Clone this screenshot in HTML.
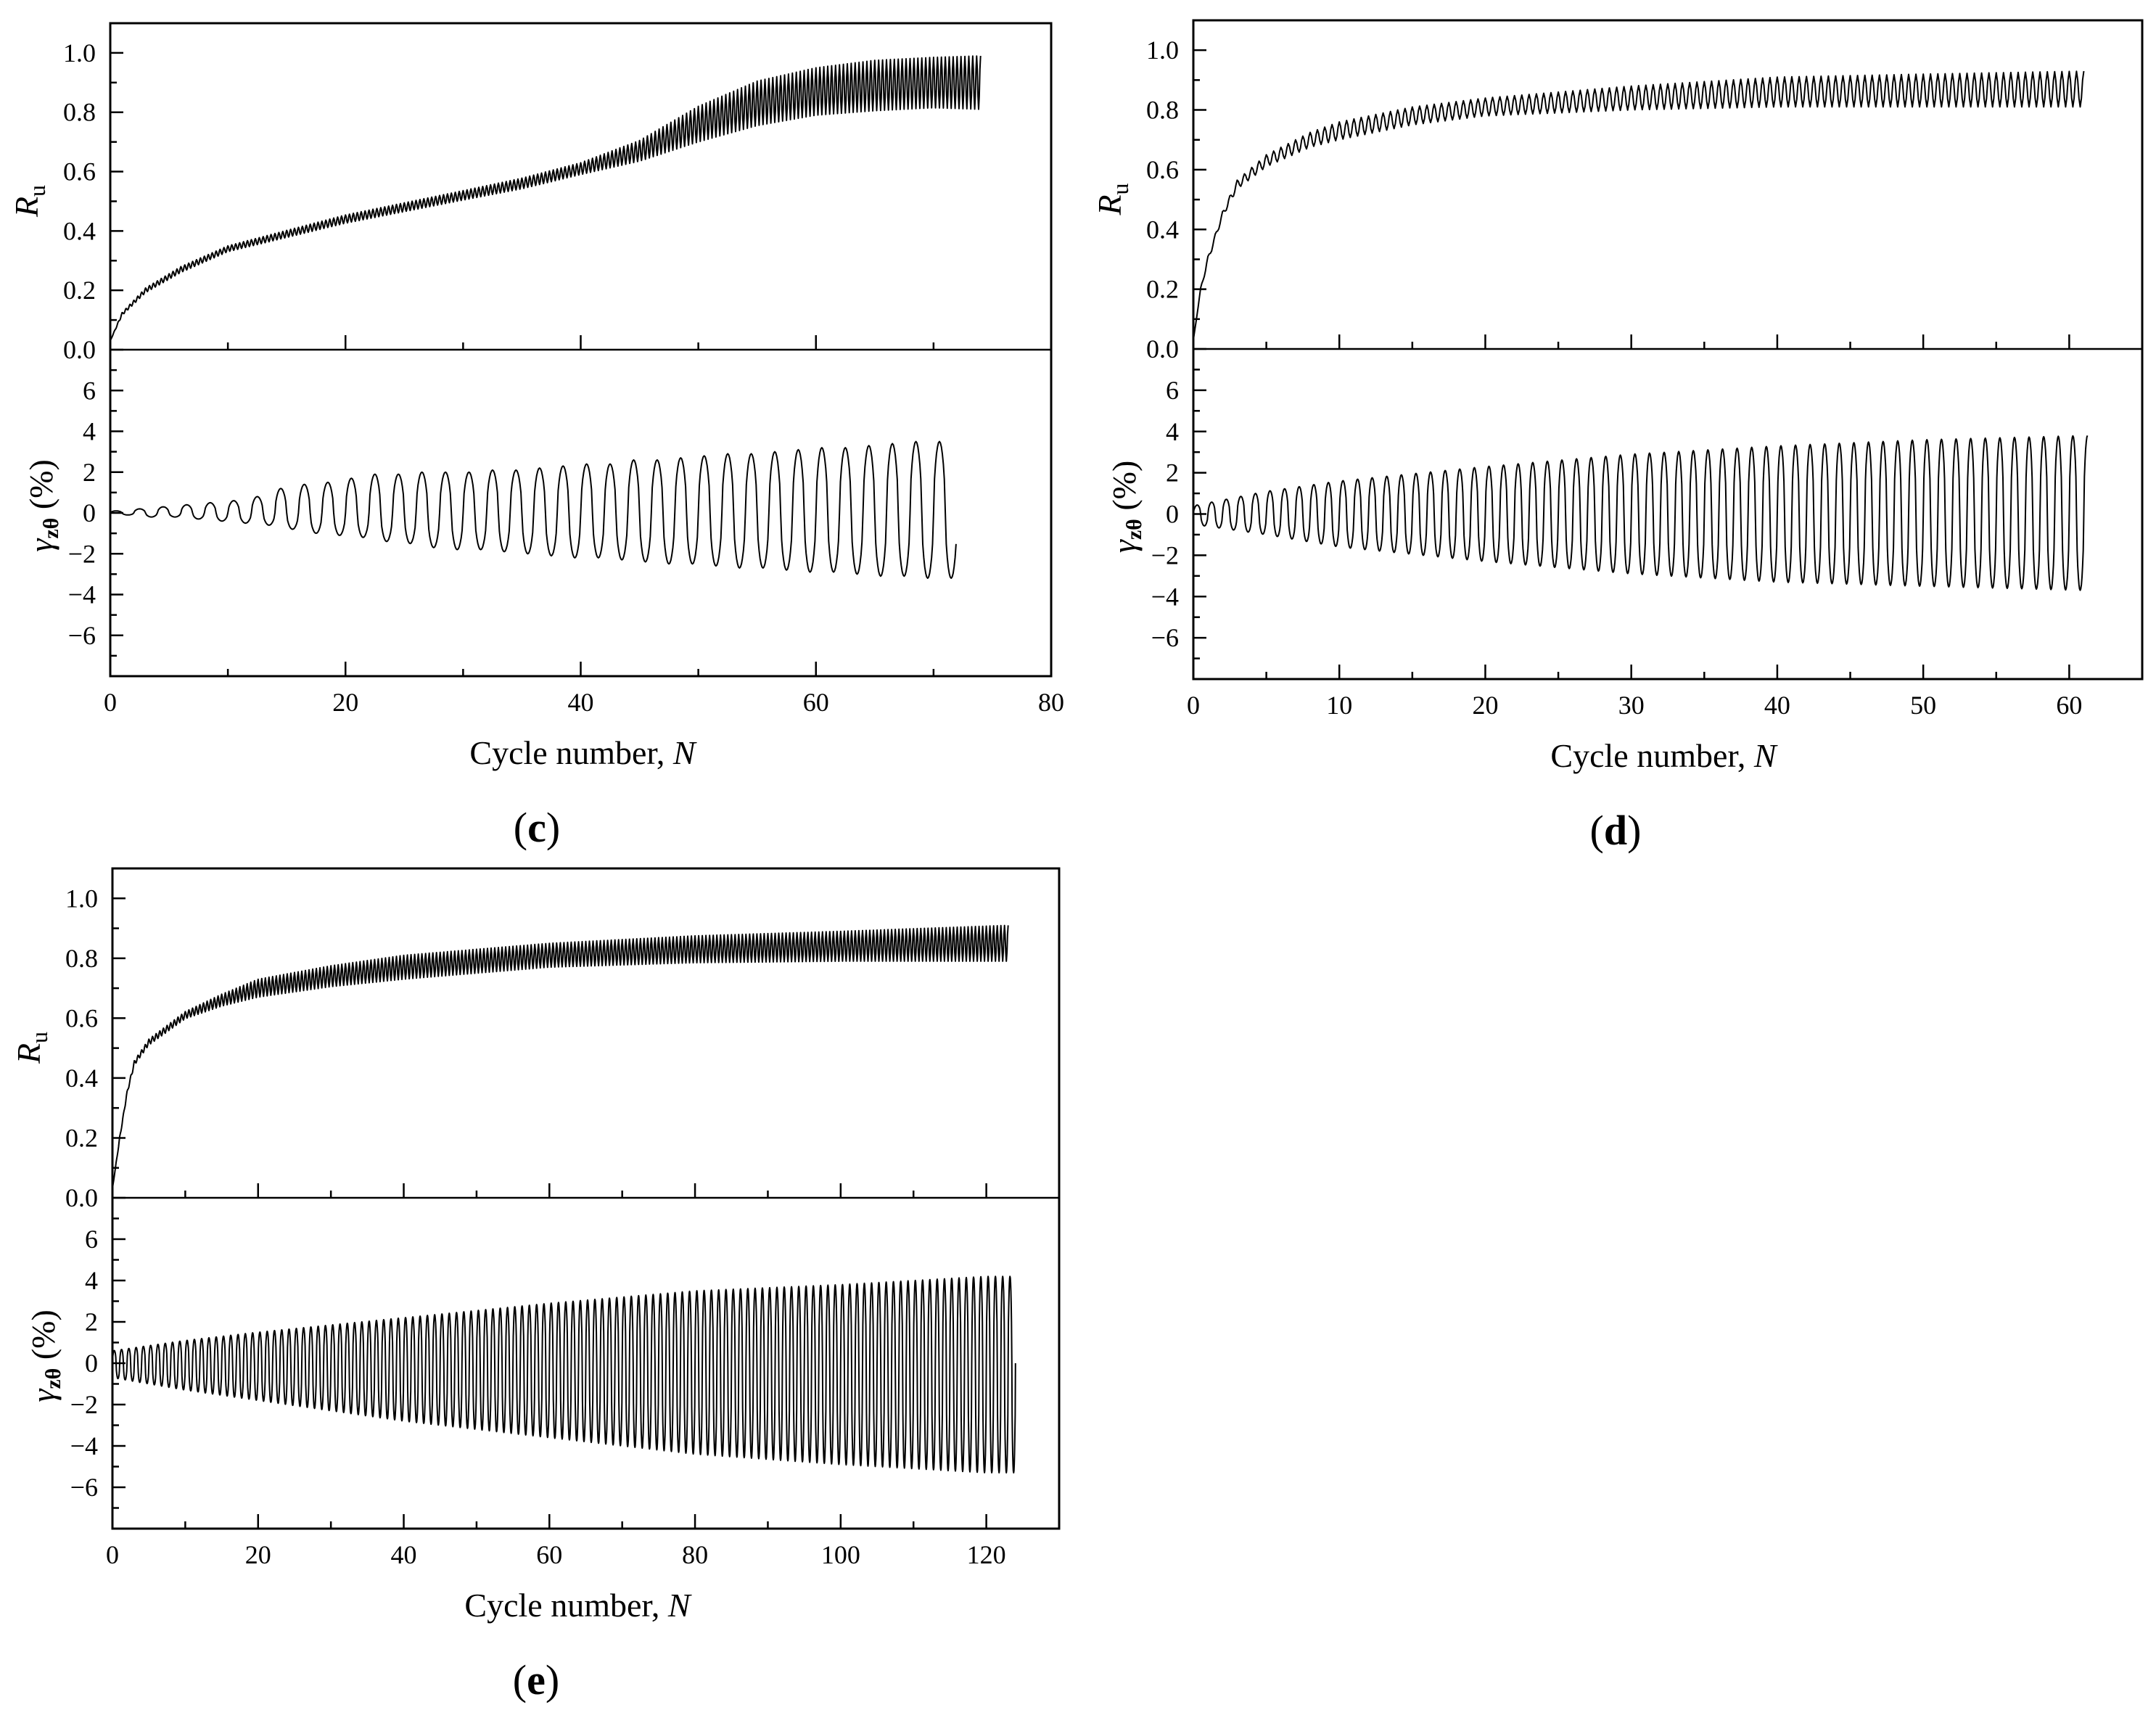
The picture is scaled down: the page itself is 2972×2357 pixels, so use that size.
<!DOCTYPE html>
<html><head><meta charset="utf-8"><style>
html,body{margin:0;padding:0;background:#fff;}
svg{display:block;}
text{font-family:"Liberation Serif",serif;fill:#000;}
.tk{font-size:36px;}
.ttl{font-size:46px;}
.pl{font-size:58px;font-weight:bold;}
</style></head><body>
<svg id="fig" xmlns="http://www.w3.org/2000/svg" width="2972" height="2357" viewBox="0 0 2972 2357">
<g id="root"></g>
</svg>
<script>
// ---------- data ----------
// Panel c
const cRuN = [0,1,3,6,10,15,20,25,30,35,40,45,50,55,60,65,70,74];
const cRuMid = [0.03,0.12,0.2,0.27,0.34,0.39,0.44,0.48,0.52,0.56,0.61,0.67,0.76,0.83,0.87,0.89,0.9,0.9];
const cRuAmp = [0,0.005,0.008,0.01,0.01,0.012,0.014,0.015,0.016,0.018,0.02,0.035,0.06,0.075,0.08,0.085,0.085,0.09];
const cGPeaks = [0.1,0.2,0.3,0.4,0.5,0.6,0.8,1.2,1.4,1.5,1.7,1.9,1.9,2.0,2.0,2.0,2.1,2.1,2.2,2.3,2.4,2.4,2.6,2.6,2.7,2.8,2.9,2.9,3.0,3.1,3.2,3.2,3.3,3.4,3.5,3.5];
const cGTroughs = [-0.1,-0.2,-0.2,-0.3,-0.4,-0.5,-0.6,-0.8,-1.0,-1.1,-1.2,-1.4,-1.5,-1.7,-1.8,-1.8,-1.9,-2.0,-2.1,-2.2,-2.2,-2.3,-2.4,-2.5,-2.5,-2.6,-2.7,-2.7,-2.8,-2.9,-2.9,-3.0,-3.1,-3.1,-3.2,-3.2];
// Panel d
const dRuN = [0,0.5,1,2,3,5,8,10,15,20,30,40,50,61];
const dRuMid = [0.03,0.2,0.3,0.45,0.55,0.63,0.7,0.73,0.78,0.81,0.84,0.86,0.865,0.87];
const dRuAmp = [0,0.005,0.01,0.01,0.015,0.02,0.025,0.03,0.03,0.03,0.04,0.05,0.055,0.06];
const dGN = [0,5,10,20,30,40,50,61];
const dGPeak = [0.4,1.1,1.6,2.3,2.9,3.3,3.6,3.8];
const dGTrough = [-0.5,-1.0,-1.6,-2.3,-2.9,-3.3,-3.5,-3.7];
// Panel e
const eRuN = [0,1,2,3,5,10,15,20,30,40,50,60,80,100,123];
const eRuMid = [0.03,0.2,0.35,0.45,0.52,0.61,0.66,0.7,0.74,0.77,0.79,0.81,0.83,0.84,0.85];
const eRuAmp = [0,0.005,0.005,0.008,0.01,0.012,0.02,0.03,0.035,0.04,0.04,0.04,0.045,0.05,0.06];
const eGN = [0,10,20,40,60,80,100,120,124];
const eGPeak = [0.6,1.1,1.5,2.2,2.9,3.5,3.8,4.2,4.2];
const eGTrough = [-0.7,-1.3,-1.8,-2.8,-3.6,-4.4,-4.9,-5.3,-5.3];
// tick labels
const ruTicks = ["0.0","0.2","0.4","0.6","0.8","1.0"];
const gTicks = ["−6","−4","−2","0","2","4","6"];
const cXTicks = [0,20,40,60,80];
const dXTicks = [0,10,20,30,40,50,60];
const eXTicks = [0,20,40,60,80,100,120];

// ---------- helpers ----------
const NS="http://www.w3.org/2000/svg";
const root=document.getElementById('root');
function mk(tag,attrs,parent){const e=document.createElementNS(NS,tag);for(const k in attrs)e.setAttribute(k,attrs[k]);(parent||root).appendChild(e);return e;}
function interp(xs,ys,x){if(x<=xs[0])return ys[0];for(let i=1;i<xs.length;i++){if(x<=xs[i]){const t=(x-xs[i-1])/(xs[i]-xs[i-1]);return ys[i-1]+t*(ys[i]-ys[i-1]);}}return ys[ys.length-1];}

function panel(P){
  const g=mk('g',{});
  
  
  const sx=v=>P.x0+(v/P.xmax)*(P.x1-P.x0);
  const sr=v=>P.ymid-(v/1.1)*(P.ymid-P.y0);
  const sg=v=>(P.ymid+P.y1)/2-(v/8)*((P.y1-P.ymid)/2);
  const fr=mk('rect',{x:P.x0,y:P.y0,width:P.x1-P.x0,height:P.y1-P.y0,fill:'none',stroke:'#000','stroke-width':3},g);
  
  const dv=mk('line',{x1:P.x0,x2:P.x1,y1:P.ymid,y2:P.ymid,stroke:'#000','stroke-width':2.5},g);
  
  for(let v=0;v<=1.0001;v+=0.1){const y=sr(v);const maj=Math.round(v*10)%2===0;
    mk('line',{x1:P.x0,x2:P.x0+(maj?18:9),y1:y,y2:y,stroke:'#000','stroke-width':2.5},g);}
  ruTicks.forEach((t,i)=>{const e=mk('text',{x:P.x0-20,y:sr(i*0.2)+12,'text-anchor':'end',class:'tk'},g);e.textContent=t;
    });
  for(let v=-7;v<=7;v++){const y=sg(v);const maj=v%2===0;
    mk('line',{x1:P.x0,x2:P.x0+(maj?18:9),y1:y,y2:y,stroke:'#000','stroke-width':2.5},g);}
  gTicks.forEach((t,i)=>{const e=mk('text',{x:P.x0-20,y:sg(-6+2*i)+12,'text-anchor':'end',class:'tk'},g);e.textContent=t;
    });
  for(let v=0;v<=P.xmax+1e-6;v+=P.minor){const x=sx(v);const maj=Math.abs(v/P.major-Math.round(v/P.major))<1e-6;const L=maj?20:10;
    mk('line',{x1:x,x2:x,y1:P.ymid,y2:P.ymid-L,stroke:'#000','stroke-width':2.5},g);
    mk('line',{x1:x,x2:x,y1:P.y1,y2:P.y1-L,stroke:'#000','stroke-width':2.5},g);}
  P.xt.forEach(v=>{const e=mk('text',{x:sx(v),y:P.y1+48,'text-anchor':'middle',class:'tk'},g);e.textContent=v;
    });
  const xt=mk('text',{x:P.xtx,y:P.y1+121,'text-anchor':'middle',class:'ttl'},g);
  xt.innerHTML='Cycle number, <tspan font-style="italic">N</tspan>';
  
  const ry=(P.y0+P.ymid)/2+20;
  const rt=mk('text',{x:0,y:0,transform:`translate(${P.x0-100},${ry}) rotate(-90)`,'text-anchor':'middle',class:'ttl'},g);
  rt.innerHTML='<tspan font-style="italic">R</tspan><tspan font-size="32" dy="10">u</tspan>';
  
  const gy=(P.ymid+P.y1)/2-10;
  const gt=mk('text',{x:0,y:0,transform:`translate(${P.x0-80},${gy}) rotate(-90)`,'text-anchor':'middle',class:'ttl'},g);
  gt.innerHTML='<tspan font-style="italic">γ</tspan><tspan font-size="30" dy="8" font-weight="bold">zθ</tspan><tspan dy="-8"> (%)</tspan>';
  
  const pl=mk('text',{x:P.plx,y:P.y1+228,'text-anchor':'middle',class:'pl'},g);
  pl.innerHTML='<tspan font-weight="normal">(</tspan>'+P.label+'<tspan font-weight="normal">)</tspan>';
  
  let d='';const nEnd=P.ruN[P.ruN.length-1];const per=P.ruPer;const steps=Math.round(nEnd*per*6);
  for(let i=0;i<=steps;i++){const n=i/(per*6);const ph=(i%6)/6;const m=interp(P.ruN,P.ruMid,n),a=interp(P.ruN,P.ruAmp,n);
    const w=Math.cos(ph*2*Math.PI);d+=(i?'L':'M')+sx(n).toFixed(1)+','+sr(m+a*w).toFixed(1);}
  const rp=mk('path',{d:d,fill:'none',stroke:'#000','stroke-width':2,'stroke-linejoin':'round'},g);
  
  d='';const gEnd=P.gEnd;const sp=24;const st=Math.round(gEnd/P.gPer*sp);
  for(let i=0;i<=st;i++){const n=i*P.gPer/sp;const c=Math.floor(n/P.gPer);const ph=(n/P.gPer)-c;
    const pk=P.peak(n,c),tr=P.trough(n,c);let s=Math.sin(ph*2*Math.PI);s=Math.sign(s)*Math.pow(Math.abs(s),0.55);
    const v=s>=0?s*pk:-s*tr;d+=(i?'L':'M')+sx(n).toFixed(1)+','+sg(v).toFixed(1);}
  const gp=mk('path',{d:d,fill:'none',stroke:'#000','stroke-width':2,'stroke-linejoin':'round'},g);
  
}

panel({name:'panel-c',label:'c',x0:152,x1:1449,y0:32,ymid:482,y1:932,xmax:80,major:20,minor:10,xt:cXTicks,xtx:803,plx:740,
  ruN:cRuN,ruMid:cRuMid,ruAmp:cRuAmp,ruPer:3,gPer:2,gEnd:71.9,
  peak:(n,c)=>cGPeaks[Math.min(c,cGPeaks.length-1)],trough:(n,c)=>cGTroughs[Math.min(c,cGTroughs.length-1)]});
panel({name:'panel-d',label:'d',x0:1645,x1:2953,y0:28,ymid:481,y1:936,xmax:65,major:10,minor:5,xt:dXTicks,xtx:2293,plx:2227,
  ruN:dRuN,ruMid:dRuMid,ruAmp:dRuAmp,ruPer:2,gPer:1,gEnd:61.25,
  peak:(n)=>interp(dGN,dGPeak,n),trough:(n)=>interp(dGN,dGTrough,n)});
panel({name:'panel-e',label:'e',x0:155,x1:1460,y0:1197,ymid:1651,y1:2107,xmax:130,major:20,minor:10,xt:eXTicks,xtx:796,plx:739,
  ruN:eRuN,ruMid:eRuMid,ruAmp:eRuAmp,ruPer:2,gPer:1,gEnd:124,
  peak:(n)=>interp(eGN,eGPeak,n),trough:(n)=>interp(eGN,eGTrough,n)});
</script>
</body></html>
